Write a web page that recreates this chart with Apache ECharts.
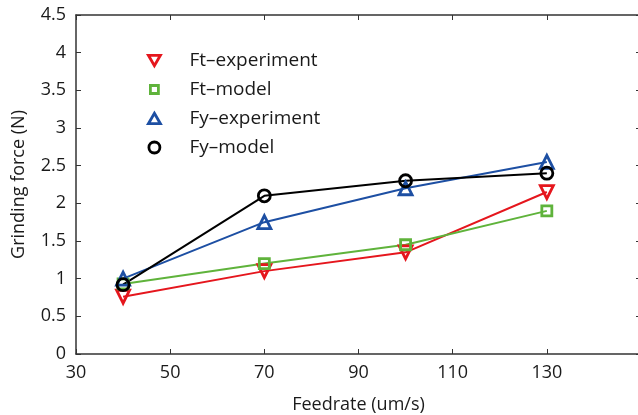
<!DOCTYPE html>
<html>
<head>
<meta charset="utf-8">
<script src="https://cdn.jsdelivr.net/npm/echarts@6/dist/echarts.min.js"></script>
<style>
  html, body { margin: 0; padding: 0; background: #fff; }
  #chart { width: 638px; height: 415px; }
</style>
</head>
<body>
<div id="chart"></div>
<script>
// feedrate values (um/s)
var feedrate = [40, 70, 100, 130];
// grinding forces (N)
var ftExperiment = [0.76, 1.1, 1.35, 2.15];
var ftModel = [0.93, 1.2, 1.45, 1.9];
var fyExperiment = [1.0, 1.75, 2.2, 2.55];
var fyModel = [0.92, 2.1, 2.3, 2.4];
var seriesNames = ['Ft\u2013experiment', 'Ft\u2013model', 'Fy\u2013experiment', 'Fy\u2013model'];

var font = 'Open Sans';
var fontSize = 18;
var axisColor = '#333';
var textColor = '#1a1a1a';

function pairs(ys) {
  return feedrate.map(function(x, i) { return [x, ys[i]]; });
}

function makeSeries(name, ys, color, symbol, size, rotate) {
  return {
    name: name,
    type: 'line',
    data: pairs(ys),
    symbol: symbol,
    symbolSize: size,
    symbolRotate: rotate || 0,
    showAllSymbol: true,
    lineStyle: { color: color, width: 2 },
    itemStyle: { color: 'transparent', borderColor: color, borderWidth: 2.8 },
    emphasis: { disabled: true },
    z: 3
  };
}

var chart = echarts.init(document.getElementById('chart'));
var commonTick = { show: true, inside: true, length: 5, lineStyle: { color: axisColor, width: 1 } };
var commonLine = { show: true, onZero: false, lineStyle: { color: axisColor, width: 1.5 } };
var legendText = { fontFamily: font, fontSize: 19, lineHeight: 18, color: textColor, padding: [0, 0, 0, 24] };

chart.setOption({
  animation: false,
  textStyle: { fontFamily: font },
  grid: { left: 76, right: -3, top: 15, bottom: 61, outerBoundsMode: 'none', containLabel: false },
  legend: {
    orient: 'vertical',
    left: 142,
    top: 46,
    itemGap: 10,
    itemWidth: 12,
    itemHeight: 11,
    textStyle: legendText,
    data: [
      { name: seriesNames[0], icon: 'path://M0,0 L10,0 L5,8.7 Z', itemStyle: { color: 'transparent', borderColor: '#e5161d', borderWidth: 2.8 } },
      { name: seriesNames[1], icon: 'path://M-1.5,-1.5 L-1.5,-1.5 M0,0 L8,0 L8,8 L0,8 Z M9.5,9.5 L9.5,9.5', itemStyle: { color: 'transparent', borderColor: '#5fb33b', borderWidth: 2.8 } },
      { name: seriesNames[2], icon: 'path://M5,0 L10,8.7 L0,8.7 Z', itemStyle: { color: 'transparent', borderColor: '#1d4fa3', borderWidth: 2.8 } },
      { name: seriesNames[3], icon: 'circle', itemStyle: { color: 'transparent', borderColor: '#000', borderWidth: 2.8 } }
    ]
  },
  xAxis: [
    {
      type: 'value', min: 30, max: 150, interval: 20,
      name: 'Feedrate (um/s)', nameLocation: 'middle', nameGap: 42,
      nameTextStyle: { fontFamily: font, fontSize: fontSize, color: textColor },
      axisLine: commonLine, axisTick: commonTick,
      axisLabel: { fontFamily: font, fontSize: fontSize, color: textColor, margin: 10, showMaxLabel: false },
      splitLine: { show: false }
    },
    {
      type: 'value', position: 'top', min: 30, max: 150, interval: 20,
      axisLine: commonLine, axisTick: commonTick,
      axisLabel: { show: false }, splitLine: { show: false }
    }
  ],
  yAxis: [
    {
      type: 'value', min: 0, max: 4.5, interval: 0.5,
      name: 'Grinding force (N)', nameLocation: 'middle', nameGap: 48,
      nameTextStyle: { fontFamily: font, fontSize: fontSize, color: textColor },
      axisLine: commonLine, axisTick: commonTick,
      axisLabel: { fontFamily: font, fontSize: fontSize, color: textColor, margin: 10 },
      splitLine: { show: false }
    },
    {
      type: 'value', position: 'right', min: 0, max: 4.5, interval: 0.5,
      axisLine: commonLine, axisTick: commonTick,
      axisLabel: { show: false }, splitLine: { show: false }
    }
  ],
  series: [
    makeSeries(seriesNames[0], ftExperiment, '#e5161d', 'triangle', 13, 180),
    makeSeries(seriesNames[1], ftModel, '#5fb33b', 'rect', 10),
    makeSeries(seriesNames[2], fyExperiment, '#1d4fa3', 'triangle', 13),
    makeSeries(seriesNames[3], fyModel, '#000', 'circle', 12)
  ]
});
</script>
</body>
</html>
